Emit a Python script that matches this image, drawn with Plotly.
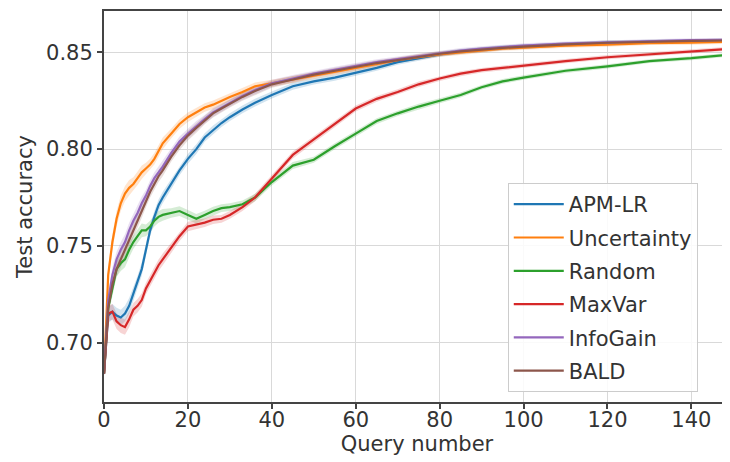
import plotly.graph_objects as go

query = [0, 1, 2, 3, 4, 5, 6, 7, 8, 9, 10, 11, 12, 13, 14, 16, 18, 20, 22, 24, 26, 28, 30,
         33, 36, 40, 45, 50, 55, 60, 65, 70, 75, 80, 85, 90, 95, 100, 110, 120, 130, 140, 150]

apm_lr = [0.684, 0.714, 0.716, 0.714, 0.713, 0.715, 0.719, 0.725, 0.731, 0.738, 0.748, 0.758, 0.765,
          0.771, 0.775, 0.782, 0.789, 0.795, 0.800, 0.806, 0.810, 0.8135, 0.8165, 0.8205, 0.824,
          0.828, 0.8325, 0.835, 0.837, 0.8395, 0.842, 0.845, 0.847, 0.849, 0.8505, 0.8515,
          0.8525, 0.853, 0.8542, 0.855, 0.8556, 0.856, 0.8562]
uncertainty = [0.684, 0.735, 0.752, 0.764, 0.772, 0.777, 0.780, 0.782, 0.785, 0.788, 0.790, 0.792,
               0.795, 0.799, 0.803, 0.808, 0.813, 0.8165, 0.819, 0.8215, 0.823, 0.825, 0.827,
               0.8295, 0.8325, 0.834, 0.836, 0.838, 0.840, 0.842, 0.844, 0.846, 0.8475, 0.849,
               0.850, 0.851, 0.852, 0.8525, 0.8535, 0.854, 0.8548, 0.855, 0.8555]
random_ = [0.684, 0.718, 0.728, 0.738, 0.741, 0.743, 0.748, 0.752, 0.755, 0.758, 0.758, 0.760,
           0.763, 0.765, 0.766, 0.767, 0.768, 0.766, 0.764, 0.766, 0.768, 0.7695, 0.770, 0.7715,
           0.775, 0.783, 0.7915, 0.7945, 0.8015, 0.808, 0.8145, 0.8185, 0.822, 0.825, 0.828,
           0.832, 0.835, 0.837, 0.8405, 0.8428, 0.8455, 0.847, 0.849]
maxvar = [0.684, 0.715, 0.716, 0.711, 0.709, 0.708, 0.712, 0.717, 0.719, 0.722, 0.728, 0.732,
          0.736, 0.740, 0.743, 0.749, 0.755, 0.760, 0.761, 0.762, 0.7635, 0.764, 0.766, 0.770,
          0.775, 0.785, 0.797, 0.805, 0.813, 0.821, 0.826, 0.8295, 0.8335, 0.8365, 0.839,
          0.8408, 0.842, 0.8432, 0.8455, 0.8475, 0.849, 0.8505, 0.852]
infogain = [0.684, 0.722, 0.735, 0.743, 0.748, 0.752, 0.758, 0.763, 0.767, 0.772, 0.776, 0.781,
            0.785, 0.788, 0.791, 0.798, 0.804, 0.808, 0.812, 0.8155, 0.819, 0.8215, 0.824,
            0.8275, 0.8305, 0.834, 0.8365, 0.839, 0.841, 0.843, 0.845, 0.8465, 0.848, 0.8495,
            0.851, 0.852, 0.8528, 0.8535, 0.8545, 0.8552, 0.8558, 0.8563, 0.8565]
bald = [0.684, 0.718, 0.730, 0.738, 0.743, 0.748, 0.753, 0.758, 0.763, 0.768, 0.773, 0.778,
        0.782, 0.786, 0.789, 0.796, 0.802, 0.807, 0.811, 0.815, 0.8185, 0.821, 0.8235, 0.827,
        0.830, 0.8335, 0.836, 0.8385, 0.8405, 0.8425, 0.8445, 0.846, 0.8478, 0.8493, 0.8505,
        0.8515, 0.8523, 0.853, 0.8542, 0.855, 0.8556, 0.856, 0.8562]

# estimated half-width of the shaded error bands
band_halfwidth = [0.001, 0.004, 0.004, 0.004, 0.004, 0.004, 0.004, 0.0035, 0.0035, 0.0035, 0.003,
                  0.003, 0.003, 0.003, 0.003, 0.0025, 0.0025, 0.0025, 0.0025, 0.0022, 0.0022,
                  0.002, 0.002, 0.002, 0.002, 0.0018, 0.0018, 0.0016, 0.0016, 0.0015, 0.0015,
                  0.0014, 0.0014, 0.0013, 0.0013, 0.0012, 0.0012, 0.0012, 0.0011, 0.0011, 0.001,
                  0.001, 0.001]

series_names = ["APM-LR", "Uncertainty", "Random", "MaxVar", "InfoGain", "BALD"]
series_values = [apm_lr, uncertainty, random_, maxvar, infogain, bald]
colors = ["#1f77b4", "#ff7f0e", "#2ca02c", "#d62728", "#9467bd", "#8c564b"]
band_colors = ["rgba(31,119,180,0.2)", "rgba(255,127,14,0.2)", "rgba(44,160,44,0.2)",
               "rgba(214,39,40,0.2)", "rgba(148,103,189,0.2)", "rgba(140,86,75,0.2)"]

FONT = "DejaVu Sans"
TXT = "#333333"
fig = go.Figure()

for name, vals, c, bc in zip(series_names, series_values, colors, band_colors):
    upper = [v + h for v, h in zip(vals, band_halfwidth)]
    lower = [v - h for v, h in zip(vals, band_halfwidth)]
    fig.add_trace(go.Scatter(x=query, y=upper, mode="lines", line=dict(width=0),
                             showlegend=False, hoverinfo="skip", legendgroup=name))
    fig.add_trace(go.Scatter(x=query, y=lower, mode="lines", line=dict(width=0),
                             fill="tonexty", fillcolor=bc, showlegend=False,
                             hoverinfo="skip", legendgroup=name))

for name, vals, c in zip(series_names, series_values, colors):
    fig.add_trace(go.Scatter(x=query, y=vals, mode="lines", name=name, legendgroup=name,
                             line=dict(color=c, width=2.2)))

axis_common = dict(
    showgrid=True, gridcolor="#d9d9d9", gridwidth=1,
    showline=True, linecolor="#444444", linewidth=2,
    ticks="outside", ticklen=5, tickwidth=1.5, tickcolor="#444444",
    tickfont=dict(family=FONT, size=21, color=TXT),
    zeroline=False, automargin=False,
)

# page body has an 8px default margin, so the figure margins are offset by it
fig.update_layout(
    width=730, height=462,
    margin=dict(l=96, r=8, t=3, b=68),
    paper_bgcolor="white", plot_bgcolor="white",
    font=dict(family=FONT, size=21, color=TXT),
    xaxis=dict(range=[0, 149.2], tickvals=[0, 20, 40, 60, 80, 100, 120, 140], mirror=True,
               ticklabelstandoff=-7,
               title=dict(text="Query number", font=dict(family=FONT, size=21, color=TXT),
                          standoff=3),
               **axis_common),
    yaxis=dict(range=[0.6693, 0.8714], tickvals=[0.70, 0.75, 0.80, 0.85], tickformat=".2f",
               title=dict(text="Test accuracy", font=dict(family=FONT, size=21, color=TXT),
                          standoff=8),
               **axis_common),
    legend=dict(x=0.645, y=0.56, xanchor="left", yanchor="top", traceorder="grouped",
                bgcolor="rgba(255,255,255,0.85)", bordercolor="#cccccc", borderwidth=1,
                font=dict(family=FONT, size=21, color=TXT),
                tracegroupgap=3, itemwidth=50),
    showlegend=True,
)

fig.write_html("out.html")
